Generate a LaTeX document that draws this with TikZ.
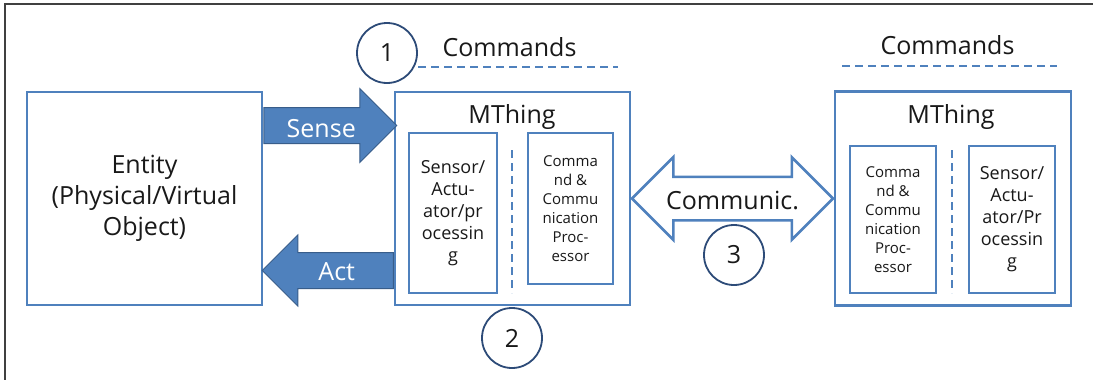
\documentclass[tikz,border=0pt]{standalone}
\usepackage{fontspec}
\setmainfont{Open Sans}
\usetikzlibrary{shapes.arrows,calc}
\definecolor{boxblue}{RGB}{79,129,189}
\definecolor{arrowborder}{RGB}{56,93,138}
\definecolor{circblue}{RGB}{45,75,120}
\definecolor{txt}{RGB}{25,25,25}
\begin{document}
\begin{tikzpicture}[x=1pt,y=-1pt,
  every node/.style={text=txt},
  big/.style={font=\fontsize{25}{31}\selectfont},
  mid/.style={font=\fontsize{18}{22}\selectfont},
  small/.style={font=\fontsize{15}{19}\selectfont},
  box/.style={draw=boxblue, line width=2.5pt, inner sep=0pt},
  innerbox/.style={draw=boxblue, line width=2.5pt, inner sep=0pt, align=center},
  divider/.style={draw=boxblue, line width=1.5pt, dash pattern=on 8pt off 5pt},
  numcirc/.style={circle, draw=circblue, line width=1.8pt, minimum size=60pt, inner sep=0pt, big},
  solidarrow/.style={single arrow, fill=boxblue, draw=arrowborder, line width=1pt,
    inner xsep=2pt, inner ysep=0pt, text=white, big},
  hollowarrow/.style={double arrow, fill=white, draw=boxblue, line width=2.5pt,
    inner xsep=2pt, inner ysep=0pt, big}
]
\useasboundingbox (0,0) rectangle (1093,380);
\fill[white] (0,0) rectangle (1093,380);
% frame
\draw[black!75, line width=1.2pt] (5,380) -- (5,4) -- (1093,4);

% entity
\node[box, minimum width=235pt, minimum height=213pt, align=center, big] (entity) at (144.5,198.5)
  {Entity\\(Physical/Virtual\\Object)};

% MThing 1
\node[box, minimum width=235pt, minimum height=213pt] (mt1) at (512.5,198.5) {};
\node[big, anchor=base] (mt1title) at (512,123) {MThing};
\node[innerbox, mid, minimum width=88pt, minimum height=160pt] (sa1) at (453,213)
  {Sensor/\\Actu-\\ator/pr\\ocessin\\g};
\node[innerbox, small, minimum width=85pt, minimum height=151pt] (cc1) at (570.5,208.5)
  {Comma\\nd \&\\Commu\\nication\\Proc-\\essor};
\draw[divider] (512,150) -- (512,293);

% MThing 2
\node[box, minimum width=236pt, minimum height=214pt] (mt2) at (953,198.5) {};
\node[big, anchor=base] (mt2title) at (951,123) {MThing};
\node[innerbox, small, minimum width=86pt, minimum height=147pt] (cc2) at (893,219.5)
  {Comma\\nd \&\\Commu\\nication\\Proc-\\essor};
\node[innerbox, mid, minimum width=86pt, minimum height=147pt] (sa2) at (1012,219.5)
  {Sensor/\\Actu-\\ator/Pr\\ocessin\\g};
\draw[divider] (952,150) -- (952,293);

% commands labels
\node[big, anchor=base] (cmd1) at (509.5,56) {Commands};
\draw[divider] (418,67) -- (618,67);
\node[big, anchor=base] (cmd2) at (947.5,54) {Commands};
\draw[divider] (842,66) -- (1057,66);

% arrows
\node[solidarrow, minimum height=133pt, minimum width=73pt, single arrow head extend=19pt,
  text height=29pt, text depth=6pt, anchor=tail] (sense) at (entity.east |- 0,125.5) {Sense};
\node[solidarrow, shape border rotate=180, minimum height=131pt, minimum width=70pt,
  single arrow head extend=17.5pt, text height=27pt, text depth=8pt, anchor=tail]
  (act) at (mt1.west |- 0,270.5) {Act};
\node[hollowarrow, minimum height=201pt, minimum width=80pt, double arrow head extend=19.5pt,
  text height=31pt, text depth=10pt] (comm) at ($(mt1.east)!0.5!(mt2.west)$) {Communic.};

% numbered circles
\node[numcirc] (n1) at (387,53) {1};
\node[numcirc] (n2) at (512,338) {2};
\node[numcirc] (n3) at (734,255) {3};
\end{tikzpicture}
\end{document}
